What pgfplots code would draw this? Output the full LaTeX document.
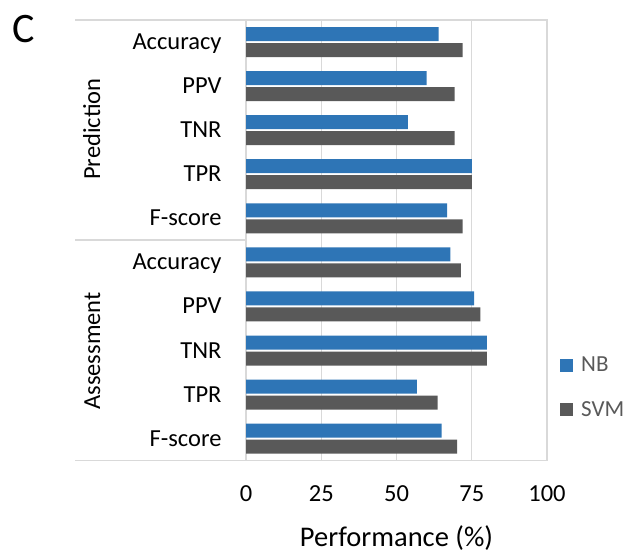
\documentclass[border=0pt]{standalone}
\usepackage{fontspec}
\setmainfont{Carlito}
\usepackage{pgfplots}
\pgfplotsset{compat=1.18}

\definecolor{nbblue}{HTML}{2E75B6}
\definecolor{svmgray}{HTML}{595959}
\definecolor{gridgray}{HTML}{D9D9D9}
\definecolor{legtext}{HTML}{595959}

\begin{document}
\begin{tikzpicture}
\useasboundingbox (0pt,0pt) rectangle (628pt,555pt);

% panel letter
\node[anchor=base west, inner sep=0pt, font=\fontsize{42}{42}\selectfont] at (12pt,512pt) {C};

\begin{axis}[
  at={(246pt,94.3pt)}, anchor=south west,
  scale only axis,
  width=301pt, height=440.7pt,
  xbar,
  bar width=14pt,
  xmin=0, xmax=100,
  ymin=-0.5, ymax=9.5,
  xtick={0,25,50,75,100},
  ytick={0,...,9},
  yticklabels={F-score,TPR,TNR,PPV,Accuracy,F-score,TPR,TNR,PPV,Accuracy},
  major tick length=0pt,
  xmajorgrids,
  grid style={draw=gridgray, line width=1.2pt},
  axis line style={draw=gridgray, line width=1.2pt},
  /pgf/number format/assume math mode=true,
  tick label style={font=\fontsize{24.5}{28}\selectfont, inner sep=0pt},
  xticklabel style={anchor=base, yshift=-41pt},
  yticklabel style={anchor=base east, xshift=-24.3pt, yshift=-7.5pt},
  xlabel={Performance (\%)},
  xlabel style={at={(axis description cs:0.5,0)}, anchor=base, yshift=-86pt,
    inner sep=0pt, font=\fontsize{28.5}{32}\selectfont},
  legend image code/.code={\fill[#1, draw=none] (0pt,0pt) rectangle (13pt,13pt);},
  legend style={at={(axis description cs:1.043,0.236)}, anchor=north west,
    draw=none, fill=none, inner sep=0pt, row sep=28pt,
    font=\fontsize{23}{26}\selectfont, text=legtext,
    nodes={inner sep=0pt, anchor=base west},
    /tikz/every odd column/.append style={column sep=8pt}},
  legend cell align=left,
]
% NB
\addplot[fill=nbblue, draw=none, bar shift=8pt] coordinates {
  (64.0,9) (60.0,8) (53.8,7) (75.0,6) (66.8,5)
  (67.9,4) (75.8,3) (80.0,2) (56.8,1) (65.0,0)
};
% SVM
\addplot[fill=svmgray, draw=none, bar shift=-8pt] coordinates {
  (72.0,9) (69.3,8) (69.3,7) (75.0,6) (72.0,5)
  (71.4,4) (77.9,3) (80.0,2) (63.7,1) (70.1,0)
};
\legend{NB, SVM}
\end{axis}

% multi-level category frame
\draw[gridgray, line width=1.2pt] (75pt,535pt) -- (246pt,535pt);
\draw[gridgray, line width=1.2pt] (75pt,315pt) -- (246pt,315pt);
\draw[gridgray, line width=1.2pt] (75pt,94.3pt) -- (246pt,94.3pt);

\node[rotate=90, anchor=base, inner sep=0pt, font=\fontsize{24.5}{28}\selectfont] at (100pt,426pt) {Prediction};
\node[rotate=90, anchor=base, inner sep=0pt, font=\fontsize{24.5}{28}\selectfont] at (100pt,204pt) {Assessment};
\end{tikzpicture}
\end{document}
